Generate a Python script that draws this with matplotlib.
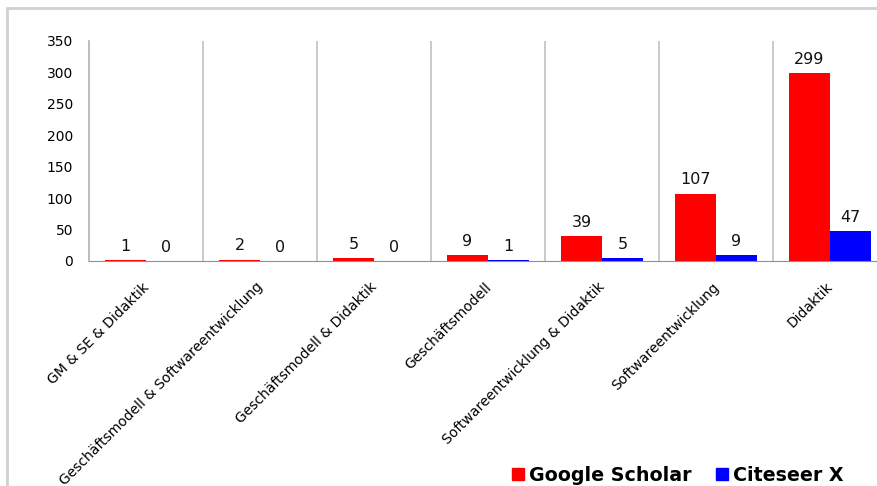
import matplotlib.pyplot as plt
from matplotlib.patches import Rectangle, Patch
from matplotlib.transforms import ScaledTranslation
import numpy as np

# Trefferzahlen je Suchbegriff
categories = [
    "GM & SE & Didaktik",
    "Geschäftsmodell & Softwareentwicklung",
    "Geschäftsmodell & Didaktik",
    "Geschäftsmodell",
    "Softwareentwicklung & Didaktik",
    "Softwareentwicklung",
    "Didaktik",
]
google_scholar = [1, 2, 5, 9, 39, 107, 299]
citeseer_x = [0, 0, 0, 1, 5, 9, 47]

plt.rcParams["font.family"] = ["DejaVu Sans"]

fig = plt.figure(figsize=(8.77, 4.86), dpi=100)
W, H = 877, 486

# grauer Rahmen um das Diagramm
fig.patches.append(Rectangle((7 / W, -0.1), 1.2, 1 - 8 / H + 0.1,
                             transform=fig.transFigure, fill=False,
                             edgecolor="#d0d0d0", linewidth=2))

ax = fig.add_axes([89 / W, 225 / H, 798 / W, 220 / H])

x = np.arange(len(categories))
w = 0.36
red = ax.bar(x - w / 2, google_scholar, w, color="#ff0000")
blue = ax.bar(x + w / 2, citeseer_x, w, color="#0000ff")

for bars, vals in ((red, google_scholar), (blue, citeseer_x)):
    for b, v in zip(bars, vals):
        ax.text(b.get_x() + b.get_width() / 2, v + 10, str(v),
                ha="center", va="bottom", fontsize=11.5, color="#111111")

ax.set_xlim(-0.5, len(categories) - 0.5)
ax.set_ylim(0, 350)
ax.set_yticks(range(0, 351, 50))
ax.tick_params(axis="y", length=0, labelsize=10, pad=11.5)
ax.tick_params(axis="x", length=0)

# senkrechte Trennlinien zwischen den Kategorien
for xb in np.arange(0.5, len(categories) - 0.5, 1):
    ax.axvline(xb, color="#c0c0c0", linewidth=1.2)

ax.set_xticks(x)
ax.set_xticklabels(categories, rotation=45, ha="right", va="top",
                   rotation_mode="anchor", fontsize=10)
for lbl in ax.get_xticklabels():
    lbl.set_transform(lbl.get_transform() +
                      ScaledTranslation(-4 / 100, -14 / 100, fig.dpi_scale_trans))

for side in ("top", "right"):
    ax.spines[side].set_visible(False)
ax.spines["left"].set_color("#b0b0b0")
ax.spines["bottom"].set_color("#909090")
ax.spines["left"].set_linewidth(1.2)

handles = [Patch(color="#ff0000", label="Google Scholar"),
           Patch(color="#0000ff", label="Citeseer X")]
fig.legend(handles=handles, loc="lower left", bbox_to_anchor=(495 / W, -16 / H),
           ncol=2, frameon=False, handlelength=0.63, handleheight=0.63,
           handletextpad=0.25, columnspacing=1.3,
           prop={"family": "DejaVu Sans", "weight": "bold", "size": 13.7})

fig.savefig("out.png", dpi=100)
